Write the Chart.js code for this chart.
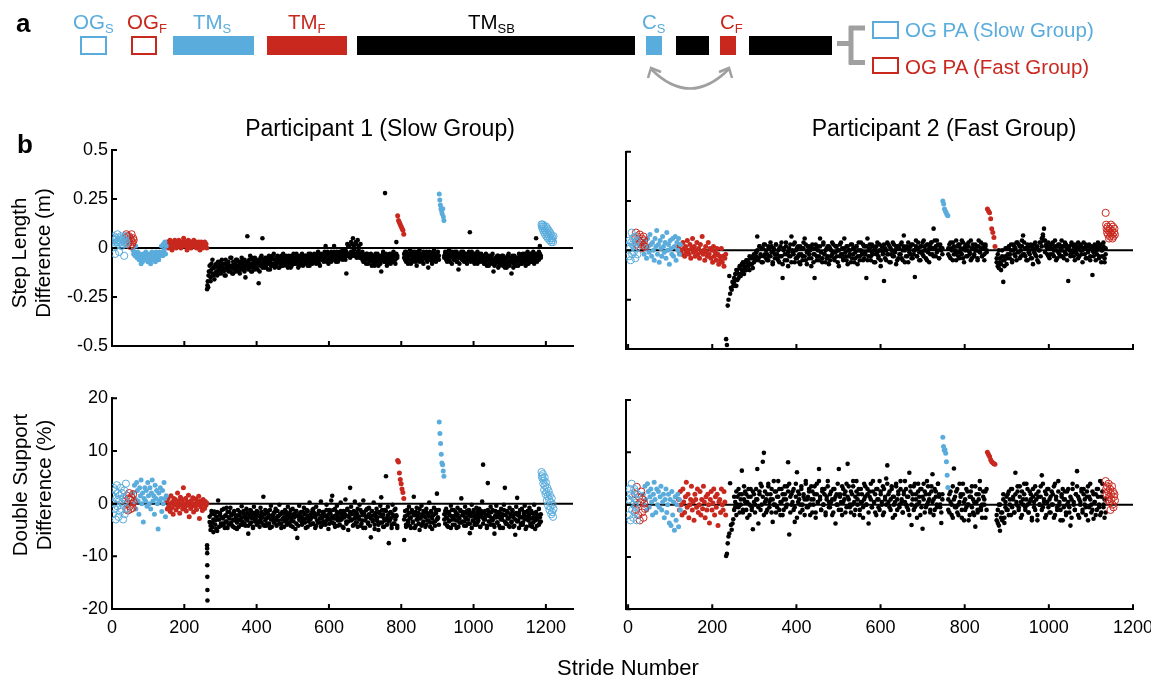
<!DOCTYPE html>
<html>
<head>
<meta charset="utf-8">
<script src="https://cdn.jsdelivr.net/npm/chart.js@4.4.0/dist/chart.umd.min.js"></script>
<style>
body { margin: 0; background: #fff; overflow: hidden; }
#fig { position: relative; width: 1151px; height: 680px; background: #fff; }
canvas { position: absolute; }
svg { position: absolute; left: 0; top: 0; }
</style>
</head>
<body>
<div id="fig">
<canvas id="p1Step" width="600" height="225" style="left:0px;top:135px"></canvas>
<canvas id="p1Ds" width="600" height="255" style="left:0px;top:385px"></canvas>
<canvas id="p2Step" width="551" height="225" style="left:600px;top:135px"></canvas>
<canvas id="p2Ds" width="551" height="255" style="left:600px;top:385px"></canvas>

<svg width="1151" height="680" font-family="'Liberation Sans', Arial, Helvetica, sans-serif">
  <!-- panel a : protocol -->
  <text x="16" y="32" font-size="26" font-weight="bold">a</text>
  <text x="73" y="29" font-size="20.5" fill="#5aacdc">OG<tspan font-size="13" dy="4">S</tspan></text>
  <rect x="81" y="37" width="25" height="17" fill="none" stroke="#5aacdc" stroke-width="2"/>
  <text x="127" y="29" font-size="20.5" fill="#c8281e">OG<tspan font-size="13" dy="4">F</tspan></text>
  <rect x="132" y="37" width="24" height="17" fill="none" stroke="#c8281e" stroke-width="2"/>
  <text x="193" y="29" font-size="20.5" fill="#5aacdc">TM<tspan font-size="13" dy="4">S</tspan></text>
  <rect x="173" y="36" width="81" height="19" fill="#5aacdc"/>
  <text x="288" y="29" font-size="20.5" fill="#c8281e">TM<tspan font-size="13" dy="4">F</tspan></text>
  <rect x="267" y="36" width="80" height="19" fill="#c8281e"/>
  <rect x="357" y="36" width="278" height="19" fill="#000"/>
  <text x="468" y="29" font-size="20.5" fill="#000">TM<tspan font-size="13" dy="4">SB</tspan></text>
  <text x="642" y="29" font-size="20.5" fill="#5aacdc">C<tspan font-size="13" dy="4">S</tspan></text>
  <rect x="646" y="36" width="16" height="19" fill="#5aacdc"/>
  <rect x="676" y="36" width="33" height="19" fill="#000"/>
  <text x="720" y="29" font-size="20.5" fill="#c8281e">C<tspan font-size="13" dy="4">F</tspan></text>
  <rect x="720" y="36" width="16" height="19" fill="#c8281e"/>
  <rect x="749" y="36" width="83" height="19" fill="#000"/>
  <path d="M651,69 Q690,108 729,69" fill="none" stroke="#a0a0a0" stroke-width="2.5"/>
  <path d="M648,78 L651,68 L661,72 M732,78 L729,68 L719,72" fill="none" stroke="#a0a0a0" stroke-width="2.5"/>
  <path d="M837,43.5 H851 M851,26 V64.5 M849,28 H865 M849,62.5 H865" fill="none" stroke="#a0a0a0" stroke-width="5"/>
  <rect x="873" y="22" width="25" height="16" fill="none" stroke="#5aacdc" stroke-width="2"/>
  <text x="905" y="37" font-size="20.5" fill="#5aacdc">OG PA (Slow Group)</text>
  <rect x="873" y="58" width="25" height="15" fill="none" stroke="#c8281e" stroke-width="2"/>
  <text x="905" y="74" font-size="20.5" fill="#c8281e">OG PA (Fast Group)</text>

  <!-- panel b : titles -->
  <text x="17" y="153" font-size="26" font-weight="bold">b</text>
  <text x="380" y="136" font-size="23" text-anchor="middle">Participant 1 (Slow Group)</text>
  <text x="944" y="136" font-size="23" text-anchor="middle">Participant 2 (Fast Group)</text>
  <text transform="translate(26,253) rotate(-90)" font-size="20.5" text-anchor="middle">Step Length</text>
  <text transform="translate(50,253) rotate(-90)" font-size="20.5" text-anchor="middle">Difference (m)</text>
  <text transform="translate(27,485) rotate(-90)" font-size="20.5" text-anchor="middle">Double Support</text>
  <text transform="translate(51,485) rotate(-90)" font-size="20.5" text-anchor="middle">Difference (%)</text>
  <text x="628" y="675" font-size="22" text-anchor="middle">Stride Number</text>
</svg>
</div>

<script>
'use strict';
const blue = '#5aacdc';
const red = '#c8281e';
const font = "'Liberation Sans', Arial, Helvetica, sans-serif";

const strideTicks = [0, 200, 400, 600, 800, 1000, 1200];
const stepTicks = [-0.5, -0.25, 0, 0.25, 0.5];
const dsTicks = [-20, -10, 0, 10, 20];

// stride ranges [first, last] of each block, participant 1 (slow group)
const p1OgS = [1, 40];
const p1OgF = [38, 60];
const p1TmS = [58, 150];
const p1TmF = [151, 262];
const p1Ramp = [263, 268];
const p1DsRampRange = [263, 264];
const p1AdaptA = [270, 789];
const p1CatchF = [790, 807];
const p1AdaptB = [808, 904];
const p1CatchS = [905, 918];
const p1AdaptC = [919, 1186];
const p1Post = [1188, 1221];

// participant 2 (fast group)
const p2OgS = [1, 22];
const p2OgF = [17, 40];
const p2TmS = [36, 124];
const p2TmF = [120, 232];
const p2Ramp = [233, 250];
const p2AdaptA = [252, 747];
const p2CatchS = [748, 760];
const p2AdaptB = [761, 852];
const p2CatchF = [854, 872];
const p2AdaptC = [876, 1135];
const p2Post = [1135, 1157];

// ---- participant 1, step length difference (m)
let p1StepOgS = [.03,.05,.02,.06,.04,-.03,.01,.05,.03,.07,.02,.04,-.02,.05,.03,.06,.01,.04,.02,.05,.03,-.04,.04,.06,.02,.03];
let p1StepOgF = [.05,.07,.03,.06,.02,.04,.06,.03,.05,.01,.04,.07,.02,.03,.05,.04];
let p1StepTmS = [-.01,-.03,-.02,-.04,.01,-.03,-.05,-.02,-.04,-.06,-.03,-.05,-.08,-.04,-.07,-.03,-.05,-.04,-.06,-.02,-.05,-.03,-.07,-.04,-.06,-.03,-.08,-.04,-.02,-.06,-.03,-.05,-.04,-.07,-.02,-.05,-.03,-.04,-.06,-.02,-.04,-.03,.01,-.02,-.04,.02,-.01,.03,-.03,.01];
let p1StepTmF = [.01,.03,.02,0,.02,.04,.01,.03,-.01,.02,.03,.01,.04,.02,0,.03,.02,.01,.04,.02,.03,0,.02,.01,.03,.05,.02,.01,.03,.02,-.01,.02,.04,.01,.03,.02,0,.03,.01,.02,.04,.02,.01,.03,0,.02,.01,.03,.02,-.01,.01,.03,.02,0,.02,.01,.03,.01,.02,0];
let p1StepRamp = [-.21,-.19,-.17,-.2,-.14,-.12];
let p1StepAdaptA = [
  -.12,-.15,-.08,-.13,-.1,-.16,-.09,-.12,-.14,-.07,
  -.11,-.09,-.13,-.06,-.1,-.12,-.08,-.14,-.09,-.11,
  -.07,-.1,-.12,-.05,-.09,-.13,-.08,-.1,-.06,-.11,
  -.09,-.12,-.07,-.1,-.05,-.08,-.11,-.06,-.15,-.09,
  .06,-.07,-.1,-.04,-.08,-.12,-.06,-.09,-.05,-.1,
  -.08,-.11,-.18,-.06,-.09,-.04,.05,-.07,-.1,-.05,
  -.08,-.06,-.11,-.04,-.07,-.09,-.05,-.08,-.03,-.1,
  -.06,-.08,-.04,-.07,-.1,-.05,-.06,-.09,-.03,-.07,
  -.05,-.08,-.06,-.1,-.04,-.07,-.05,-.09,-.06,-.03,
  -.07,-.05,-.08,-.04,-.06,-.09,-.05,-.07,-.03,-.06,
  -.08,-.04,-.06,-.05,-.09,-.03,-.07,-.05,-.04,-.08,
  -.05,-.03,-.07,-.04,-.06,-.02,-.08,-.05,-.03,-.06,
  -.04,-.07,-.02,.01,-.05,-.03,-.08,-.04,-.06,-.02,
  -.05,-.03,.01,-.06,-.04,-.02,-.07,-.03,-.05,-.04,
  -.02,-.06,-.03,-.05,-.01,-.13,.02,-.04,.01,-.03,
  .03,-.02,.05,.01,-.04,.02,-.03,.04,-.01,-.05,
  .02,-.03,-.06,-.04,-.07,-.05,-.08,-.03,-.06,-.04,
  -.07,-.05,-.09,-.04,-.06,-.08,-.03,-.07,-.05,-.09,
  -.04,-.06,-.12,-.05,-.03,-.07,.28,-.04,-.06,-.08,
  -.05,-.03,-.07,-.04,-.06,-.02,-.05,-.08,.03,-.04];
let p1StepAdaptA2 = [
  -.09,-.17,-.11,-.06,-.14,-.1,-.13,-.08,-.12,-.1,
  -.13,-.07,-.1,-.12,-.08,-.11,-.14,-.06,-.1,-.08,
  -.12,-.09,-.05,-.1,-.13,-.07,-.11,-.08,-.12,-.06,
  -.1,-.07,-.13,-.08,-.11,-.06,-.09,-.12,-.07,-.1,
  -.08,-.11,-.06,-.09,-.12,-.05,-.1,-.07,-.11,-.08,
  -.06,-.09,-.07,-.12,-.05,-.08,-.1,-.06,-.09,-.07,
  -.1,-.05,-.08,-.07,-.11,-.06,-.09,-.04,-.08,-.06,
  -.09,-.05,-.07,-.1,-.06,-.08,-.04,-.07,-.09,-.05,
  -.07,-.04,-.09,-.06,-.08,-.05,-.1,-.04,-.07,-.08,
  -.05,-.08,-.03,-.07,-.1,-.04,-.06,-.08,-.05,-.09,
  -.06,-.07,-.04,-.08,-.05,-.06,-.09,-.03,-.07,-.05,
  -.07,-.06,-.04,-.08,-.03,-.07,-.05,-.09,-.04,-.06,
  -.05,-.03,-.06,-.04,-.07,-.02,-.05,-.06,-.03,-.07,
  -.04,-.06,-.02,-.05,-.07,-.03,-.04,-.06,-.02,-.05,
  -.04,-.01,-.05,-.03,-.06,-.02,-.04,.01,-.03,-.05,
  -.02,.02,-.04,-.01,-.03,.03,-.05,-.02,.01,-.04,
  -.03,-.05,-.02,-.07,-.04,-.06,-.03,-.05,-.08,-.04,
  -.06,-.03,-.05,-.07,-.04,-.09,-.05,-.06,-.03,-.07,
  -.05,-.08,-.04,-.06,-.02,-.05,-.07,-.03,-.09,-.05,
  -.06,-.04,-.08,-.03,-.05,-.07,-.04,-.06,-.03,-.05];
let p1StepCatchF = [.165,.14,.13,.12,.11,.1,.09,.07];
let p1StepAdaptB = [-.03,-.06,-.02,-.05,-.08,-.04,-.01,-.06,-.03,-.07,-.05,-.02,-.04,-.09,-.03,-.06,-.01,-.05,-.04,-.07,-.02,-.05,-.03,-.06,-.04,-.1,-.02,-.05,-.03,-.07,-.04,-.01,-.06,-.03,-.05,-.02,-.04];
let p1StepAdaptB2 = [-.05,-.02,-.07,-.03,-.04,-.06,-.03,-.08,-.04,-.02,-.06,-.03,-.07,-.05,-.02,-.04,-.07,-.03,-.06,-.04,-.08,-.03,-.05,-.02,-.07,-.04,-.06,-.03,-.05,-.08,-.02,-.06,-.04,-.07,-.03,-.05,-.06];
let p1StepCatchS = [.275,.245,.22,.2,.19,.175,.2,.16,.14];
let p1StepAdaptC = [
  -.04,-.02,-.06,-.03,-.05,-.01,-.07,-.04,-.02,-.05,
  -.03,-.06,-.04,-.02,-.07,-.11,-.03,-.05,-.04,-.06,
  -.02,-.05,-.03,-.07,-.04,-.06,-.02,.08,-.05,-.03,
  -.06,-.04,-.08,-.03,-.05,-.02,-.07,-.04,-.06,-.03,
  -.05,-.07,-.04,-.08,-.03,-.06,-.05,-.09,-.04,-.06,
  -.07,-.03,-.12,-.06,-.08,-.05,-.07,-.04,-.09,-.06,
  -.05,-.08,-.04,-.07,-.1,-.06,-.05,-.08,-.03,-.07,
  -.06,-.13,-.05,-.08,-.04,-.07,-.09,-.05,-.06,-.03,
  -.07,-.05,-.08,-.04,-.06,-.03,-.07,-.05,-.02,-.06,
  -.04,-.07,-.03,-.05,-.02,-.06,-.04,.05,-.03,-.05,
  -.02,.01,-.04];
let p1StepAdaptC2 = [
  -.05,-.03,-.04,-.07,-.02,-.06,-.04,-.03,-.08,-.04,
  -.06,-.02,-.05,-.07,-.03,-.05,-.08,-.04,-.02,-.06,
  -.04,-.07,-.03,-.05,-.08,-.03,-.06,-.04,-.07,-.02,
  -.05,-.07,-.03,-.06,-.04,-.08,-.05,-.03,-.07,-.05,
  -.06,-.04,-.08,-.05,-.07,-.09,-.04,-.06,-.08,-.05,
  -.04,-.08,-.06,-.09,-.05,-.07,-.04,-.1,-.06,-.08,
  -.07,-.04,-.09,-.06,-.05,-.08,-.1,-.04,-.07,-.09,
  -.05,-.07,-.04,-.1,-.06,-.08,-.05,-.07,-.09,-.06,
  -.04,-.08,-.06,-.03,-.07,-.05,-.09,-.04,-.06,-.08,
  -.05,-.03,-.07,-.04,-.06,-.08,-.03,-.05,-.07,-.04,
  -.06,-.03,-.05];
let p1StepPost = [.12,.11,.1,.12,.09,.11,.08,.1,.07,.09,.11,.06,.08,.1,.05,.07,.09,.06,.04,.08,.05,.07,.03,.06,.04,.05,.03,.06];

// ---- participant 1, double support difference (%)
let p1DsOgS = [1.5,-2,3,0,-1,2.5,-3,1,3.5,-0.5,2,-2.5,0.5,1.5,-1.5,3,-1,2,0,-3,1,2.5,-2,0.5,3.8,-1];
let p1DsOgF = [0.5,-1,1.5,0,-1.3,1,2,-0.5,0.8,-1,1.2,0,-0.8,1.8,0.3];
let p1DsTmS = [2,0,3.5,1,-1,4,2.5,0.5,-2,3,1.5,4.5,0,2,-3.5,1,3,0.5,2.5,-0.5,4,1.5,0,3,-1,2,4.5,0.5,1.5,-2,3.5,1,2.5,0,-4.8,2,0.5,3,1,-1.5,2.5,0,4,1,-2.5,1.5];
let p1DsTmF = [0.5,-1,1,-0.5,0,-1.5,1.5,-0.8,0.3,-2,1,-0.3,0.8,-1.2,0,2,-0.6,0.5,-1.8,1.2,-0.2,0.7,-1,3,0,-0.7,1,-1.4,0.4,-0.3,1.6,-2.5,0.2,-0.9,0.6,-0.4,1.1,-1.6,0,-0.5,0.9,-1.1,0.3,-0.2,1.4,-2.8,0.5,-0.6,0.2,-1.3,0.8,0,-0.9,0.4,-0.3,0.1];
let p1DsRamp = [-7.9,-8.5,-9.4,-11.7,-13.9,-16.4,-18.4];
let p1DsAdaptA = [
  -3.5,-5,-2,-4.5,-3,-1.5,-4,-2.5,-5.2,0.6,
  -3,-1.8,-4.2,-2.6,-3.8,-1,-4.6,-2.2,-3.4,-1.6,
  -4,-2.8,-0.8,-3.6,-2,-4.4,-1.4,-3.2,-2.4,-4.8,
  -1.2,-3,-2.2,-4,-0.5,-3.4,-1.8,-2.6,-4.2,-1,
  -3.2,-5.7,-2,-3.8,-1.4,-2.8,-4.4,-0.6,-3,-2.2,
  -4,-1.6,-3.4,-2.4,-0.8,-3.6,-2,1.3,-4.2,-1.2,
  -2.8,-3.8,-1.4,-2.2,-4.6,-0.4,-3,-2.6,-1.8,-3.4,
  -1,-4,-2.4,-3.2,-0.2,-2,-3.8,-1.6,-2.8,-4.4,
  -1.2,-3,-2.2,-0.6,-3.6,-1.8,-4.2,-2.6,-1,-3.4,
  -2,-4.8,-1.4,-6.5,-2.4,-0.4,-3.2,-1.6,-4,-2.8,
  -0.8,-3.6,-2,-1.2,-4.4,-2.6,0.2,-3,-1.8,-3.8,
  -1,-2.4,-4.6,-0.6,-3.2,-2,-1.4,-3.6,0.4,-2.8,
  -4,-1.6,-2.2,-3.4,-0.2,-2.6,-4.8,-1.2,-3,0.6,
  1.5,-2.4,-3.8,-1,-2.8,-0.4,-4.2,-1.8,-3.2,0.2,
  -2,-4.4,-1.4,-2.6,0.8,-3.4,-1.2,-5,-2.2,3,
  -0.6,-3,-1.8,-4,0.4,-2.4,-3.6,-1,-2.8,-0.2,
  -4.2,-1.6,-3.2,0.6,-2,-4.6,-1.2,-2.6,-3.8,-0.8,
  -2.2,-6.4,-1.4,-3,0.2,-4,-2.4,-1,-3.4,-5,
  -1.8,-0.4,1.2,-3.6,-2,-4.4,-1.2,5.2,-2.8,-0.6,
  -7.5,-3.2,-1.6,-4,-0.2,-2.4,-3.8,-1,-2.2,-4.6];
let p1DsAdaptA2 = [
  -2.5,-4.2,-1.4,-3.6,-5.4,-2,-3.2,-4.8,-1.6,-3,
  -4.4,-2.2,-3.8,-1.2,-2.8,-4,-2.4,-3.4,-0.8,-4.6,
  -2.6,-1.6,-3.8,-2.2,-4.2,-3,-1.8,-4.6,-2.8,-3.6,
  -2.2,-4.4,-1.6,-3.2,-2.6,-4,-1.4,-3.8,-2.4,-3,
  -1.8,-4.2,-2.6,-1.2,-3.6,-2.2,-4.6,-1.8,-3.4,-2.8,
  -1.4,-3.8,-2.2,-4.4,-3,-1.6,-2.6,-4,-2,-3.2,
  -4.2,-1.8,-2.6,-3.8,-1.2,-3,-4.4,-2.2,-3.6,-1.6,
  -2.8,-4.2,-1.4,-2.4,-3.8,-2,-4.6,-3,-1.8,-2.6,
  -3.4,-1.6,-4,-2.8,-2.2,-3.6,-1.2,-3.2,-4.4,-2,
  -2.6,-1.4,-3.8,-2.2,-4.2,-3,-1.8,-2.4,-3.6,-1.6,
  -3.2,-2,-4.6,-2.8,-1.4,-3.4,-2.2,-4,-2.6,-1.2,
  -3.8,-1.8,-2.6,-4.2,-2,-3.6,-1.4,-2.8,-4.4,-2.2,
  -1.6,-3.4,-2.4,-4,-1.2,-3,-2,-3.8,-1.8,-2.6,
  -3.6,-1.2,-2.8,-4.4,-2.2,-1.6,-3.2,-2.6,-4,-1.4,
  -3,-2.4,-4.6,-1.8,-2.2,-3.8,-1,-3.4,-2.6,-1.6,
  -3.2,-2,-4.2,-1.4,-2.8,-3.6,-1.8,-4.4,-2.4,-3,
  -1.2,-3.8,-2.2,-4.6,-1.6,-3.2,-2.6,-1,-3.6,-2,
  -4.2,-2.8,-1.4,-3.4,-2.2,-4.8,-1.8,-3,-2.6,-4,
  -1.6,-3.6,-2.4,-1.2,-4.4,-2.8,-3.2,-1.4,-4,-2.2,
  -3.4,-1.8,-2.8,-4.6,-2,-3.8,-1.2,-3,-2.4,-4.2];
let p1DsCatchF = [8.2,7.9,5.8,4.6,3.8,2.8,2.1,1.0];
let p1DsAdaptB = [-6.9,-2.4,-4,-1.2,-3.2,-0.6,-2.8,-4.6,-1.6,-3.6,1.3,-2.2,-4.2,-0.8,-3,-1.8,-5,-2.6,-0.4,-3.8,-1.4,-2.4,-4.4,-1,-3.2,-2,0.2,-3.6,-1.6,-4.8,-2.2,-0.8,-3.4,-1.2,1.9,-2.8,-4];
let p1DsAdaptB2 = [-3,-1.4,-4.4,-2.2,-3.6,-1.8,-4.2,-2.6,-1.2,-3.4,-2,-4.6,-1.6,-3,-2.4,-3.8,-1,-2.8,-4.2,-2,-3.4,-1.6,-2.6,-4,-1.8,-3.2,-2.4,-4.4,-1.4,-2.8,-3.6,-2,-4.2,-1.8,-3,-2.6,-1.2];
let p1DsCatchS = [15.5,13.3,11.4,9.4,7.7,7.4,6.2,5.2];
let p1DsAdaptC = [
  -2,-3.8,-1,-2.8,-4.4,-1.6,-3.2,-0.4,-2.4,-4,
  -1.2,-3,-2.2,-4.6,-0.8,-2.6,-3.6,-1.4,1,-3.4,
  -2,-4.2,-0.6,-2.8,-1.8,-3.8,-1.2,-5.6,-2.4,-0.2,
  -3.2,-1.6,-4,-2.2,-0.8,-3.6,-2.6,-1,-4.4,-2,
  0.4,7.4,-3,-1.4,-2.4,-4.2,3.9,-1.8,-3.4,-0.6,
  -2.8,-1.2,-4,-5.7,-2.2,-0.4,-3.6,-1.6,-2.6,-4.6,
  -1,-3,-2,-0.2,3,-3.8,-1.4,-2.8,-4.2,-0.8,
  -2.4,-3.4,-1.2,-4.4,-2,-5.9,-0.6,1.1,-3.2,-1.8,
  -2.6,-4,-1,-3.6,-2.2,-0.4,-4.8,-1.6,-3,-2.4,
  -0.8,-3.8,-1.4,-4.4,-2.8,-0.2,-3.2,-1.8,-4.2,-2.6,
  -1,-3.6,-2];
let p1DsAdaptC2 = [
  -3,-1.4,-2.6,-4.2,-1.8,-3.4,-2.2,-4.6,-1.2,-3,
  -2.4,-4,-1.6,-3.2,-2,-4.4,-2.8,-1.2,-3.6,-2.2,
  -1.6,-3.4,-2.6,-4.2,-1.4,-3,-2.2,-3.8,-1.8,-4.6,
  -2.4,-1.2,-3.6,-2.8,-4,-1.6,-3.2,-2,-4.4,-1.4,
  -2.6,-3.8,-1.8,-3,-2.2,-4.6,-1.2,-3.4,-2.4,-4,
  -1.6,-3.2,-2.8,-4.4,-1.4,-2.6,-3.6,-2,-4.2,-1.8,
  -3,-2.4,-4.6,-1.2,-3.4,-2.2,-3.8,-1.6,-2.8,-4.4,
  -2,-3.6,-1.4,-2.6,-4.2,-3,-1.8,-3.4,-2.2,-4.6,
  -1.2,-3.8,-2.6,-4,-1.6,-3,-2.4,-4.4,-1.4,-3.2,
  -2,-4.2,-2.8,-1.8,-3.6,-2.4,-4.8,-1.6,-3,-2.2,
  -4,-2.6,-3.4];
let p1DsPost = [6,5.2,4.8,5.6,3.8,4.4,2.6,5,3.4,1.8,4,2.2,0.6,3,1.4,-0.4,2.4,0.8,-1.2,1.6,-0.6,0.2,-2,1,-1.6,-0.2,-2.5,-1];

// ---- participant 2, step length difference (m)
let p2StepOgS = [.02,-.03,.05,.01,-.05,.04,.09,-.02,.03,.06,-.01,.02,.07,-.04,.04,.01,.05,-.02];
let p2StepOgF = [.06,.09,.03,.07,.02,.05,.08,.04,.01,.06,.03,.07,.05,.02];
let p2StepTmS = [.03,-.02,.05,.01,-.04,.06,.02,-.01,.08,.03,-.03,.04,0,-.05,.06,.02,.1,-.02,.03,-.06,.05,.01,-.03,.07,.02,-.01,.04,-.04,.09,0,.03,-.07,.05,.01,-.02,.06,-.03,.02,.07,-.05,.04,0,.06,-.02,.03];
let p2StepTmF = [.02,-.01,.03,0,-.02,.04,.01,-.03,.02,-.01,.05,0,-.02,.03,-.04,.01,.06,-.01,.02,-.03,0,.04,-.02,.01,-.04,.03,-.01,.07,-.02,0,-.05,.02,-.01,-.03,.04,-.02,.01,-.04,0,-.06,.02,-.03,-.01,-.05,.01,-.02,-.07,-.03,-.05,.01,-.06,-.03,-.08,-.04,-.02];
let p2StepRamp = [-.45,-.48,-.28,-.25,-.13,-.22,-.19,-.2,-.16,-.18];
let p2StepAdaptA = [
  -.16,-.12,-.18,-.1,-.14,-.09,-.12,-.07,-.11,-.08,
  -.06,-.1,-.05,-.08,-.03,-.07,-.04,-.09,-.02,-.05,
  -.01,.07,-.04,.02,-.03,.01,-.06,.03,-.02,0,
  -.05,.02,-.03,.04,-.01,-.07,.01,-.02,.03,-.04,
  0,-.06,.02,-.03,-.14,.01,-.05,.04,-.02,-.08,
  .01,-.03,.07,-.01,.03,-.06,0,-.04,.02,-.02,
  -.07,.01,-.03,.04,.06,-.05,-.01,.02,-.04,0,
  -.08,.03,-.02,-.14,.01,-.05,.02,-.03,.06,-.01,
  -.06,.03,-.02,0,-.04,.02,-.07,.01,-.03,.04,
  -.01,-.05,.02,-.03,0,-.08,.03,-.02,.01,-.04,
  .06,-.01,-.05,.02,-.03,0,-.06,.03,-.02,.01,
  -.04,.02,-.07,0,-.03,.04,-.01,-.05,.02,-.02,
  -.14,.06,-.03,.01,-.05,.03,-.02,0,-.06,.02,
  -.01,-.04,.03,-.08,0,-.02,-.155,.01,-.05,.04,
  -.02,.02,-.06,0,-.03,.03,-.01,-.07,.02,-.04,
  .01,-.02,.04,-.05,.075,0,-.03,.02,-.06,.01,
  -.02,.03,-.04,0,-.135,.02,-.03,.04,-.01,-.05,
  .02,-.02,.05,0,-.04,.03,-.01,-.06,.02,.04,
  -.02,.11,.01,-.03,.05,0,-.04,.03,.01,-.02];
let p2StepAdaptA2 = [
  -.14,-.18,-.1,-.15,-.12,-.08,-.13,-.1,-.06,-.12,
  -.09,-.05,-.08,-.06,-.1,-.04,-.07,-.03,-.06,-.04,
  -.03,0,-.05,.02,-.02,-.06,.01,-.03,.03,-.04,
  -.02,-.05,.01,-.03,.02,-.06,0,-.04,.03,-.02,
  -.05,.01,-.03,.04,-.07,0,-.02,.02,-.05,-.01,
  -.03,.03,-.06,0,-.02,.04,-.04,.01,-.03,-.06,
  .02,-.02,-.05,.01,-.03,.03,-.07,0,-.02,.02,
  -.04,.01,-.06,-.02,.03,-.03,0,-.05,.02,-.01,
  -.04,.04,-.02,-.06,.01,-.03,.02,-.05,0,-.02,
  .03,-.04,-.01,.02,-.06,0,-.03,.04,-.02,-.05,
  .01,-.03,.02,-.07,0,-.02,.03,-.04,.01,-.06,
  -.01,.02,-.03,.04,-.05,0,-.02,.03,-.04,-.01,
  .02,-.05,0,.03,-.03,-.01,.02,-.06,.01,-.02,
  .04,-.03,0,-.05,.02,-.01,.03,-.04,0,-.02,
  .03,-.06,.01,-.02,.04,-.03,0,.02,-.05,.01,
  -.02,.03,-.04,0,.02,-.06,.01,-.03,.04,-.01,
  .02,-.04,.03,-.02,0,.05,-.03,.01,-.05,.02,
  -.01,.04,-.03,.02,0,-.05,.03,.01,-.02,.04,
  .01,-.03,.05,.02,-.01,.03,-.04,.02,0,.01];
let p2StepCatchS = [.25,.235,.21,.2,.19,.18,.175];
let p2StepAdaptB = [.01,-.03,.04,0,-.05,.02,-.02,.05,-.01,.03,-.04,.01,-.02,.04,-.06,0,.03,-.03,.02,-.01,.05,-.04,.01,-.02,.03,0,-.05,.02,-.01,.04,-.03,.01,-.02,.03,0];
let p2StepAdaptB2 = [-.02,.03,-.04,.01,.04,-.02,0,-.05,.02,-.03,.03,-.01,.05,-.04,.01,.02,-.03,0,.04,-.02,-.05,.01,.03,-.03,0,.02,-.04,.05,-.01,.01,-.03,.03,-.05,.02,-.01];
let p2StepCatchF = [.21,.2,.19,.16,.11,.09,.065,.02];
let p2StepAdaptC = [
  -.04,-.08,0,-.06,-.1,-.03,-.16,-.05,.01,-.07,
  -.02,.02,-.04,0,-.06,.03,-.02,.01,-.05,.04,
  -.01,.02,-.03,.05,.075,-.02,.01,-.05,.03,-.01,
  0,-.04,.02,-.07,.03,-.02,.01,-.05,0,.04,
  -.03,.06,.08,.11,.05,.02,-.02,.04,-.04,.01,
  .03,-.02,0,.05,-.05,.02,-.01,.03,-.03,0,
  .02,-.04,.04,-.02,.01,-.155,0,-.03,.03,-.01,
  .02,-.05,.01,-.02,.04,-.03,0,.02,-.06,.01,
  -.02,.03,-.04,0,.02,-.03,.01,-.125,-.01,.03,
  -.05,0,.02,-.03,.01,-.06,0,.04,-.04,-.02];
let p2StepAdaptC2 = [
  -.06,-.02,-.09,-.04,-.07,0,-.05,-.08,-.03,.01,
  -.04,.01,-.02,.03,-.05,0,.02,-.03,.04,-.01,
  .03,-.04,0,.02,-.02,.04,-.03,.01,-.05,.02,
  -.02,.03,-.04,.01,-.01,.04,-.03,.02,-.06,0,
  .04,.02,.07,.05,-.01,.03,.01,-.03,.02,-.02,
  .01,.04,-.03,.02,0,-.04,.03,-.02,.01,.05,
  -.03,.02,-.01,.03,-.05,.01,.02,-.02,.04,0,
  -.03,.03,-.01,.02,-.04,.01,.03,-.02,0,.04,
  .01,-.04,.02,-.01,.03,-.05,.02,0,-.03,.02,
  .01,-.02,.04,-.04,.03,0,-.03,.02,-.06,.01];
let p2StepPost = [.19,.13,.11,.09,.12,.08,.1,.06,.11,.07,.09,.13,.08,.1,.06,.12,.07,.09,.11,.08];

// ---- participant 2, double support difference (%)
let p2DsOgS = [1,-2,3,0.5,-3,2,4,-1,1.5,-2.5,0,3,-1.5,2.5,-0.5,1,-3,2];
let p2DsOgF = [2,-1,3.4,0,-2,1.5,-3,0.5,2.5,-1.5,1,-2.5,0.2,-0.8];
let p2DsTmS = [2,0,3.5,1,-1,4,2.5,-0.5,1.5,3,0.5,-2,2,4.3,1,-1.5,3,0,2.5,-0.5,1.5,3.5,-1,0.5,2,-2.5,1,3,-1.5,0,2,-3.5,1,-4,2.5,-2,0.5,-4.9,1.5,-3,0,2,-4.2,1,-1];
let p2DsTmF = [1,-1,2.5,0,-2,3,0.5,-1.5,1.5,4.3,-0.5,2,-2.5,0,1,3.5,-1,0.5,-3,2,1,-0.5,3,-1.5,0,2.5,-2,1,-0.8,3.5,0.5,-2.5,1.5,-1,2,0,-3.5,1,2.5,-1,0.3,3,-2,1.5,-0.5,2,-4,0.5,1,-1.5,3,0,-1,2.5,0.5,-2];
let p2DsRamp = [-9.8,-9.4,-7.4,-6.1,-5.5,4.1,-3.9,-4.8,-3.6,-2.8];
let p2DsAdaptA = [
  -1,0.5,-2,1.5,-0.5,2,0,6.5,-1.5,1,
  2.5,-1,0.5,3,-2,1.5,-0.5,-4.7,2,0,
  1,6.8,-3.6,2.5,-1,3.5,8.2,9.9,0.5,-1.5,
  2,4,-0.5,1,3,-3.3,0,2.5,-1.5,1.5,
  4.5,-1,0.5,3,-2,1,2,-0.5,3.5,8.1,
  -5.7,1.5,0,2.5,-1,-3.3,4,6.2,0.5,2,
  -1.5,3,0,1.5,-2,4.5,1,-0.5,2.5,0,
  3.5,-1.5,1,2,-2.5,4,0.5,6.8,1.5,-1,
  2.5,0,3,-1.5,1,4.5,-0.5,2,0.5,-2,
  3,1,-3.6,2,0,6.8,1.5,-1,3.5,0.5,
  2,-1.5,4,7.8,1,-0.5,2.5,0,3.5,-2,
  1.5,4.5,0,2,-1,3,0.5,-2.5,1,3.5,
  0,2,-3.6,1.5,4,-0.5,2.5,0.5,-1.5,3,
  1,-0.5,4.5,2,0,-2,3,1,5,7.5,
  0.5,2.5,-1,3.5,1.5,0,-2,4,1,2.5,
  -0.5,3,0.5,-1.5,2,4.5,0,1.5,-1,6.1,
  2.5,-3.9,1,3.5,-0.5,2,0,4,1.5,-2,
  3,-4.6,1,2.5,-0.5,4.5,0.5,2,-1.5,3.5,
  5.8,1,-1,2.5,0,4,1.5,-0.5,-3.5,2];
let p2DsAdaptA2 = [
  1.5,-0.5,2.5,0,3,-1.5,1,2,-1,3.5,
  0.5,2,-2.5,1.5,0,3,-1,2.5,0.5,-1.5,
  3,1,-0.5,2,4,0,1.5,-2,2.5,1,
  -1,3.5,0.5,2,-1.5,1,4.5,0,2.5,-0.5,
  1.5,3,-2,0.5,2,-1,3.5,1,0,2.5,
  4,-1.5,2,0.5,3,-0.5,1.5,-2.5,2.5,1,
  0,3.5,-1,2,1,4,-0.5,1.5,3,-2,
  1,2.5,0,3.5,-1.5,2,0.5,4.5,1,-1,
  3,0,2,-2,1.5,3.5,0.5,-0.5,2.5,1,
  -1.5,3,1.5,0,4,-1,2,0.5,-2,3,
  1,2.5,-0.5,1.5,3.5,0,-1.5,2,4.5,0.5,
  -1,2.5,1,3,-2,0.5,2,-0.5,4,1.5,
  0,3,-1.5,2.5,1,-0.5,4.5,0.5,2,-2,
  3,1,-1,2.5,0.5,3.5,-1.5,1.5,0,4,
  2,-0.5,1,3,-2.5,1.5,0.5,3.5,-1,2,
  0,4.5,1,-1.5,2.5,0.5,3,-0.5,1.5,-2,
  3.5,0,2,-1,4,1,-2.5,2.5,0.5,3,
  -0.5,1.5,4,-1.5,2,0,3.5,1,-1,2.5,
  0.5,-2,3,1.5,-0.5,4,2,0,-1.5,1];
let p2DsCatchS = [12.9,11.1,10.4,10.5,9.8,8.2,5.6,3.3];
let p2DsAdaptB = [1,-1.5,2.5,0,-2.5,6.9,1.5,-0.5,3,-2,0.5,2,-1,4,-3,1,-0.5,2.5,0,-2,1.5,3.5,-1.5,0.5,-4.2,2,-1,1,3,-0.5,-2.5,1.5,0,2.5,-1];
let p2DsAdaptB2 = [-1,2,0.5,-2,3.5,1,-0.5,2.5,-1.5,0,4,1.5,-2.5,2,0.5,-1,3,0,-3,1.5,2.5,-0.5,1,-2,3.5,0.5,-1.5,2,4.5,-1,0,2.5,1,-2.5,3];
let p2DsCatchF = [10,9.6,9.2,8.6,8.2,8,7.8,7.7];
let p2DsAdaptC = [
  -2,-3.5,0,-5,-1.5,-3,1,-2.5,0.5,-1,
  2,-2,1,3,-0.5,1.5,-1.5,6.1,0,2.5,
  -1,3.5,0.5,-2,1,2,-0.5,4,0,-1.5,
  2.5,1,-2.5,3,0.5,-1,2,-3,1.5,0,
  3.5,5.6,-0.5,1,2.5,-2,0.5,3,-1.5,1.5,
  0,2,-2.5,4,1,-1,2.5,0,-3,1.5,
  3,-0.5,1,-2,2.5,0.5,-1.5,-4,1,3,
  0,-1,2,6.4,1.5,-2.5,0.5,3,-1,2,
  0,-2,1.5,3.5,-0.5,1,-1.5,2.5,-2.7,0.5,
  2,-1,3,0,-2,1.5,4,-0.5,1,-1.5];
let p2DsAdaptC2 = [
  -3,-1,-4,0,-2.5,-1.5,2,-3.5,-0.5,1.5,
  -1,2.5,0,-2,3,1,-1.5,2,0.5,3.5,
  -0.5,1.5,-2.5,2.5,0,4,-1,1,3,-1.5,
  0.5,2,-3,1.5,-0.5,3.5,1,-2,2.5,0,
  1.5,-1,4,0.5,-2.5,2,3,-0.5,1,-1.5,
  2.5,0,3.5,-2,1.5,-0.5,4.5,0.5,-1,2,
  -3,1,2.5,-1.5,0,3,-0.5,1.5,-2.5,4,
  0.5,-1,2,3.5,-2,1,0,2.5,-1.5,3,
  1,-0.5,2.5,-3,1.5,4,0,-1,2,0.5,
  -2,3,1.5,-0.5,4.5,-1.5,2.5,0,-2.5,1];
let p2DsPost = [4.5,3,2,3.5,1,2.5,4,1.5,0.5,3,-1,2,1,3.5,0,2.5,-0.5,1.5,2,0.8];

// spread the samples of one block over its stride range
function block(range, ys) {
    let n = ys.length;
    return ys.map((y, i) => ({
        x: range[0] + (n > 1 ? (range[1] - range[0]) * i / (n - 1) : 0),
        y: y
    }));
}

function join(pairs) {
    let out = [];
    for (let i = 0; i < pairs.length; i++) {
        out = out.concat(block(pairs[i][0], pairs[i][1]));
    }
    return out;
}

// horizontal line at zero, under the points
const zeroLine = {
    id: 'zeroLine',
    beforeDatasetsDraw(chart) {
        const ctx = chart.ctx;
        const a = chart.chartArea;
        const py = chart.scales.y.getPixelForValue(0);
        ctx.save();
        ctx.strokeStyle = '#000';
        ctx.lineWidth = 2;
        ctx.beginPath();
        ctx.moveTo(a.left, py);
        ctx.lineTo(a.right, py);
        ctx.stroke();
        ctx.restore();
    }
};

// matlab style ticks pointing into the plot
const inwardTicks = {
    id: 'inwardTicks',
    afterDraw(chart) {
        const ctx = chart.ctx;
        const a = chart.chartArea;
        const sx = chart.scales.x;
        const sy = chart.scales.y;
        ctx.save();
        ctx.strokeStyle = '#000';
        ctx.lineWidth = 2;
        ctx.beginPath();
        sx.ticks.forEach(t => {
            let px = sx.getPixelForValue(t.value);
            ctx.moveTo(px, a.bottom);
            ctx.lineTo(px, a.bottom - 5);
        });
        sy.ticks.forEach(t => {
            let py = sy.getPixelForValue(t.value);
            ctx.moveTo(a.left, py);
            ctx.lineTo(a.left + 5, py);
        });
        ctx.stroke();
        ctx.restore();
    }
};

function drawPanel(id, openBlue, openRed, dotBlue, dotRed, dotBlack, cfg) {
    new Chart(document.getElementById(id), {
        type: 'scatter',
        data: {
            datasets: [
                { data: openBlue, pointRadius: 3.6, borderWidth: 1, borderColor: blue, backgroundColor: 'rgba(255,255,255,0)' },
                { data: openRed, pointRadius: 3.6, borderWidth: 1, borderColor: red, backgroundColor: 'rgba(255,255,255,0)' },
                { data: dotBlue, pointRadius: 2.5, borderWidth: 0, backgroundColor: blue },
                { data: dotRed, pointRadius: 2.5, borderWidth: 0, backgroundColor: red },
                { data: dotBlack, pointRadius: 2.3, borderWidth: 0, backgroundColor: '#000' }
            ]
        },
        options: {
            responsive: false,
            animation: false,
            events: [],
            layout: { padding: { top: cfg.top, right: cfg.right, left: 0, bottom: 0 } },
            plugins: { legend: { display: false }, tooltip: { enabled: false } },
            scales: {
                x: {
                    type: 'linear',
                    min: cfg.xMin,
                    max: cfg.xMax,
                    afterBuildTicks: s => { s.ticks = strideTicks.map(v => ({ value: v })); },
                    afterFit: s => { s.height = cfg.xh; s.paddingLeft = 0; s.paddingRight = 0; },
                    grid: { display: false, drawTicks: false },
                    border: { display: true, width: 2, color: '#000' },
                    ticks: { display: cfg.xLabels, color: '#000', font: { family: font, size: 18 }, padding: 8, maxRotation: 0, autoSkip: false, callback: v => String(v) }
                },
                y: {
                    type: 'linear',
                    min: cfg.yTicks[0],
                    max: cfg.yTicks[cfg.yTicks.length - 1],
                    afterBuildTicks: s => { s.ticks = cfg.yTicks.map(v => ({ value: v })); },
                    afterFit: s => { s.width = cfg.yw; s.paddingTop = 0; s.paddingBottom = 0; },
                    grid: { display: false, drawTicks: false },
                    border: { display: true, width: 2, color: '#000' },
                    ticks: { display: cfg.yLabels, color: '#000', font: { family: font, size: 18 }, padding: 4, callback: v => String(v) }
                }
            }
        },
        plugins: [zeroLine, inwardTicks]
    });
}

drawPanel('p1Step',
    join([[p1OgS, p1StepOgS], [p1Post, p1StepPost]]),
    join([[p1OgF, p1StepOgF]]),
    join([[p1TmS, p1StepTmS], [p1CatchS, p1StepCatchS]]),
    join([[p1TmF, p1StepTmF], [p1CatchF, p1StepCatchF]]),
    join([[p1Ramp, p1StepRamp], [p1AdaptA, p1StepAdaptA], [p1AdaptA, p1StepAdaptA2], [p1AdaptB, p1StepAdaptB], [p1AdaptB, p1StepAdaptB2], [p1AdaptC, p1StepAdaptC], [p1AdaptC, p1StepAdaptC2]]),
    { top: 15, right: 27, xh: 14, yw: 112, xMin: 0, xMax: 1275, yTicks: stepTicks, xLabels: false, yLabels: true });

drawPanel('p1Ds',
    join([[p1OgS, p1DsOgS], [p1Post, p1DsPost]]),
    join([[p1OgF, p1DsOgF]]),
    join([[p1TmS, p1DsTmS], [p1CatchS, p1DsCatchS]]),
    join([[p1TmF, p1DsTmF], [p1CatchF, p1DsCatchF]]),
    join([[p1DsRampRange, p1DsRamp], [p1AdaptA, p1DsAdaptA], [p1AdaptA, p1DsAdaptA2], [p1AdaptB, p1DsAdaptB], [p1AdaptB, p1DsAdaptB2], [p1AdaptC, p1DsAdaptC], [p1AdaptC, p1DsAdaptC2]]),
    { top: 13.3, right: 27, xh: 31, yw: 112, xMin: 0, xMax: 1275, yTicks: dsTicks, xLabels: true, yLabels: true });

drawPanel('p2Step',
    join([[p2OgS, p2StepOgS]]),
    join([[p2OgF, p2StepOgF], [p2Post, p2StepPost]]),
    join([[p2TmS, p2StepTmS], [p2CatchS, p2StepCatchS]]),
    join([[p2TmF, p2StepTmF], [p2CatchF, p2StepCatchF]]),
    join([[p2Ramp, p2StepRamp], [p2AdaptA, p2StepAdaptA], [p2AdaptA, p2StepAdaptA2], [p2AdaptB, p2StepAdaptB], [p2AdaptB, p2StepAdaptB2], [p2AdaptC, p2StepAdaptC], [p2AdaptC, p2StepAdaptC2]]),
    { top: 16.7, right: 18, xh: 11, yw: 26, xMin: -5, xMax: 1200, yTicks: stepTicks, xLabels: false, yLabels: false });

drawPanel('p2Ds',
    join([[p2OgS, p2DsOgS]]),
    join([[p2OgF, p2DsOgF], [p2Post, p2DsPost]]),
    join([[p2TmS, p2DsTmS], [p2CatchS, p2DsCatchS]]),
    join([[p2TmF, p2DsTmF], [p2CatchF, p2DsCatchF]]),
    join([[p2Ramp, p2DsRamp], [p2AdaptA, p2DsAdaptA], [p2AdaptA, p2DsAdaptA2], [p2AdaptB, p2DsAdaptB], [p2AdaptB, p2DsAdaptB2], [p2AdaptC, p2DsAdaptC], [p2AdaptC, p2DsAdaptC2]]),
    { top: 15, right: 18, xh: 30.7, yw: 26, xMin: -5, xMax: 1200, yTicks: dsTicks, xLabels: true, yLabels: false });
</script>
</body>
</html>
